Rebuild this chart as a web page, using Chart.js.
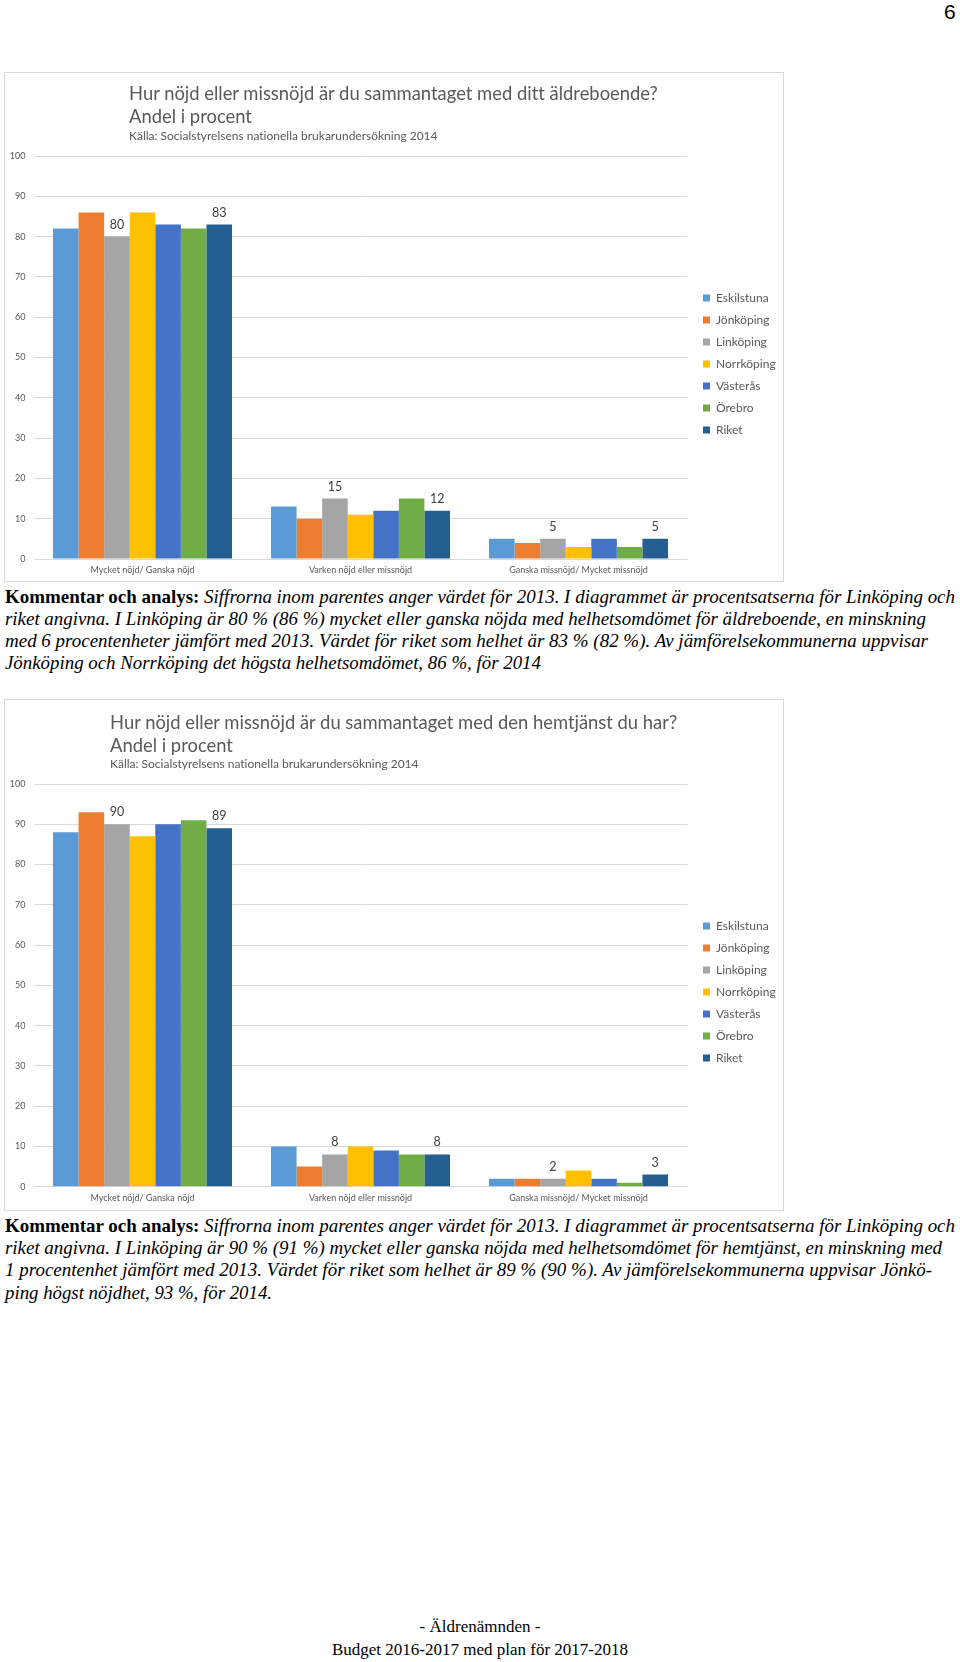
<!DOCTYPE html>
<html><head><meta charset="utf-8">
<script src="https://cdn.jsdelivr.net/npm/chart.js@4.4.1/dist/chart.umd.min.js"></script>
<style>
html,body{margin:0;padding:0;background:#fff;}
body{position:relative;width:960px;height:1662px;overflow:hidden;font-family:Lato,sans-serif;}
.box{position:absolute;border:1px solid #d9d9d9;}
.box canvas{position:absolute;left:0;top:0;}
.ttl{position:absolute;white-space:nowrap;color:#595959;font-family:Lato,sans-serif;font-variant-ligatures:none;}
.t1{font-size:18.4px;line-height:20px;}
.t2{font-size:12px;line-height:14px;}
.ln{position:absolute;left:5px;white-space:nowrap;font-family:"Liberation Serif","Times New Roman",serif;font-size:19.5px;line-height:22px;font-style:italic;color:#000;transform-origin:0 50%;}
.ln b{font-style:normal;font-weight:bold;}
.pg{position:absolute;left:944px;top:0px;font-family:"Liberation Sans",Arial,sans-serif;font-size:21px;line-height:24px;color:#000;}
.ft{position:absolute;left:0;width:960px;text-align:center;font-family:"Liberation Serif","Times New Roman",serif;font-size:17px;line-height:20px;color:#000;}
</style></head>
<body>
<div class="pg">6</div>

<div class="box" style="left:4px;top:72px;width:778px;height:508px;"><canvas id="c1" width="778" height="508"></canvas></div>
<div class="ttl t1" style="left:129px;top:83px;">Hur nöjd eller missnöjd är du sammantaget med ditt äldreboende?</div>
<div class="ttl t1" style="left:129px;top:106px;">Andel i procent</div>
<div class="ttl t2" style="left:129px;top:129px;">Källa: Socialstyrelsens nationella brukarundersökning 2014</div>

<div class="ln" data-w="950" style="top:585.5px;"><b>Kommentar och analys:</b> Siffrorna inom parentes anger värdet för 2013. I diagrammet är procentsatserna för Linköping och</div>
<div class="ln" data-w="921" style="top:607.8px;">riket angivna. I Linköping är 80 % (86 %) mycket eller ganska nöjda med helhetsomdömet för äldreboende, en minskning</div>
<div class="ln" data-w="923" style="top:630px;">med 6 procentenheter jämfört med 2013. Värdet för riket som helhet är 83 % (82 %). Av jämförelsekommunerna uppvisar</div>
<div class="ln" data-w="536" style="top:652.3px;">Jönköping och Norrköping det högsta helhetsomdömet, 86 %, för 2014</div>

<div class="box" style="left:4px;top:699px;width:778px;height:510px;"><canvas id="c2" width="778" height="510"></canvas></div>
<div class="ttl t1" style="left:110px;top:712px;">Hur nöjd eller missnöjd är du sammantaget med den hemtjänst du har?</div>
<div class="ttl t1" style="left:110px;top:734.5px;">Andel i procent</div>
<div class="ttl t2" style="left:110px;top:756.5px;">Källa: Socialstyrelsens nationella brukarundersökning 2014</div>

<div class="ln" data-w="950" style="top:1215px;"><b>Kommentar och analys:</b> Siffrorna inom parentes anger värdet för 2013. I diagrammet är procentsatserna för Linköping och</div>
<div class="ln" data-w="937" style="top:1237px;">riket angivna. I Linköping är 90 % (91 %) mycket eller ganska nöjda med helhetsomdömet för hemtjänst, en minskning med</div>
<div class="ln" data-w="927" style="top:1259.4px;">1 procentenhet jämfört med 2013. Värdet för riket som helhet är 89 % (90 %). Av jämförelsekommunerna uppvisar Jönkö-</div>
<div class="ln" data-w="267" style="top:1281.7px;">ping högst nöjdhet, 93 %, för 2014.</div>

<div class="ft" style="top:1617px;">- Äldrenämnden -</div>
<div class="ft" style="top:1640px;">Budget 2016-2017 med plan för 2017-2018</div>

<script>
// ---- data ----
const categories = ["Mycket nöjd/ Ganska nöjd", "Varken nöjd eller missnöjd", "Ganska missnöjd/ Mycket missnöjd"];
const cities = ["Eskilstuna", "Jönköping", "Linköping", "Norrköping", "Västerås", "Örebro", "Riket"];
const labelledCities = ["Linköping", "Riket"];
const yTicks = [0, 10, 20, 30, 40, 50, 60, 70, 80, 90, 100];

// Chart 1: äldreboende
const boendeEskilstuna = [82, 13, 5];
const boendeJonkoping  = [86, 10, 4];
const boendeLinkoping  = [80, 15, 5];
const boendeNorrkoping = [86, 11, 3];
const boendeVasteras   = [83, 12, 5];
const boendeOrebro     = [82, 15, 3];
const boendeRiket      = [83, 12, 5];

// Chart 2: hemtjänst
const hemtjEskilstuna = [88, 10, 2];
const hemtjJonkoping  = [93, 5, 2];
const hemtjLinkoping  = [90, 8, 2];
const hemtjNorrkoping = [87, 10, 4];
const hemtjVasteras   = [90, 9, 2];
const hemtjOrebro     = [91, 8, 1];
const hemtjRiket      = [89, 8, 3];

// ---- styles ----
const seriesColors = ["#5B9BD5", "#ED7D31", "#A5A5A5", "#FFC000", "#4472C4", "#70AD47", "#255E91"];

const valueLabels = {
  id: 'valueLabels',
  afterDatasetsDraw(chart) {
    const ctx = chart.ctx;
    ctx.save();
    ctx.font = '12.5px Lato';
    ctx.fillStyle = '#404040';
    ctx.textAlign = 'center';
    ctx.textBaseline = 'alphabetic';
    chart.data.datasets.forEach((ds, i) => {
      if (!ds.showValue) return;
      const meta = chart.getDatasetMeta(i);
      meta.data.forEach((bar, j) => {
        ctx.fillText(String(ds.data[j]), bar.x, bar.y - 8);
      });
    });
    ctx.restore();
  }
};

function legendWidth(pad, box, fs) {
  const c = document.createElement('canvas').getContext('2d');
  c.font = fs + 'px Lato';
  let m = 0;
  cities.forEach(t => { m = Math.max(m, c.measureText(t).width); });
  return pad + box + fs / 2 + m + 10;
}

function makeChart(id, seriesData, canvasW, canvasH, areaTop, areaBottom) {
  const areaLeft = 28.5, areaRight = 682.5, y2w = 5.5;
  const lw = legendWidth(10, 7, 12);
  const padRight = canvasW - areaRight - y2w - lw;
  return new Chart(document.getElementById(id), {
    type: 'bar',
    data: {
      labels: categories,
      datasets: cities.map((c, i) => ({
        label: c,
        data: seriesData[i],
        backgroundColor: seriesColors[i],
        borderWidth: 0,
        categoryPercentage: 0.821,
        barPercentage: 1.0,
        showValue: labelledCities.includes(c)
      }))
    },
    options: {
      responsive: false,
      animation: false,
      layout: { padding: { top: areaTop, bottom: 0, left: 0, right: padRight } },
      plugins: {
        tooltip: { enabled: false },
        legend: {
          position: 'right',
          fullSize: false,
          title: { display: true, text: ' ', font: { size: 1 }, padding: { top: 6, bottom: 6 } },
          labels: { boxWidth: 7, boxHeight: 7, padding: 10, color: '#595959', font: { family: 'Lato', size: 12 } }
        }
      },
      scales: {
        x: {
          grid: { display: false, drawTicks: false },
          border: { display: false },
          ticks: { color: '#595959', font: { family: 'Lato', size: 9 }, padding: 6, maxRotation: 0 },
          afterFit(s) { s.height = canvasH - areaBottom; }
        },
        y: {
          min: 0, max: 100,
          afterBuildTicks(s) { s.ticks = yTicks.map(v => ({ value: v })); },
          grid: { color: '#d9d9d9', lineWidth: 1, drawTicks: false },
          border: { display: false },
          ticks: { color: '#595959', font: { family: 'Lato', size: 9 }, padding: 8 },
          afterFit(s) { s.width = areaLeft; }
        },
        y2: {
          position: 'right',
          display: true,
          grid: { display: false, drawTicks: false },
          border: { display: false },
          ticks: { display: false },
          afterFit(s) { s.width = y2w; }
        }
      }
    },
    plugins: [valueLabels]
  });
}

makeChart('c1', [boendeEskilstuna, boendeJonkoping, boendeLinkoping, boendeNorrkoping, boendeVasteras, boendeOrebro, boendeRiket], 778, 508, 83, 486);
makeChart('c2', [hemtjEskilstuna, hemtjJonkoping, hemtjLinkoping, hemtjNorrkoping, hemtjVasteras, hemtjOrebro, hemtjRiket], 778, 510, 84, 486.7);

function fitLines() {
  document.querySelectorAll('.ln').forEach(el => {
    el.style.transform = 'none';
    const w = el.getBoundingClientRect().width;
    const t = parseFloat(el.dataset.w);
    el.style.transform = 'scaleX(' + (t / w) + ')';
  });
}
fitLines();
if (document.fonts && document.fonts.ready) document.fonts.ready.then(fitLines);
</script>
</body></html>
